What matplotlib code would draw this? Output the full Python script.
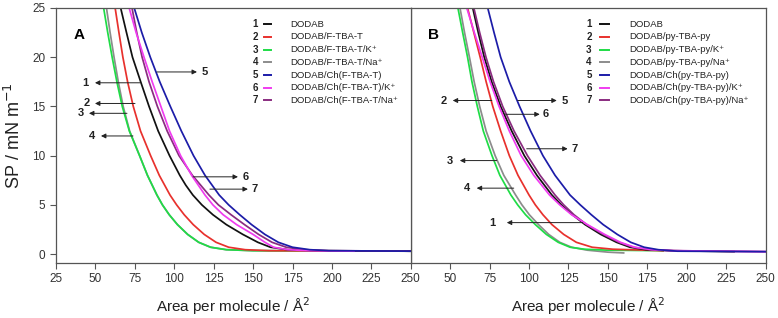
import matplotlib
matplotlib.use("Agg")
import matplotlib.pyplot as plt

plt.rcParams['font.family'] = ['Liberation Sans', 'DejaVu Sans']

# ---- panel A curves (area / A^2 vs SP / mN m-1) ----
a1_x = [66, 69.7, 73.5, 78.7, 84, 89.8, 97, 103.5, 107.3, 111.8, 117.5, 124.5, 133, 143.5, 153, 161, 172, 190, 250]
a1_y = [25, 22.5, 20, 17.5, 15, 12.5, 10, 8, 7, 6, 5, 4, 3, 2, 1.2, 0.7, 0.45, 0.35, 0.3]
a2_x = [62.5, 64.9, 67.4, 70.4, 74, 78.6, 85, 90.5, 97.3, 101.5, 106.3, 112, 119, 126.5, 134.5, 145, 160, 250]
a2_y = [25, 22.5, 20, 17.5, 15, 12.5, 10, 8, 6, 5, 4, 3, 2, 1.2, 0.7, 0.45, 0.35, 0.3]
a3_x = [55.2, 57.8, 60.6, 63.6, 67.0, 71.5, 78, 83, 89, 92.5, 96.8, 102, 108.5, 115.5, 123, 133, 150, 250]
a3_y = [25, 22.5, 20, 17.5, 15, 12.5, 10, 8, 6, 5, 4, 3, 2, 1.2, 0.7, 0.45, 0.35, 0.3]
a4_x = [57, 59.3, 61.8, 64.5, 67.6, 71.7, 78, 83, 89, 92.5, 96.8, 102, 108.5, 115.5, 123, 133, 150, 250]
a4_y = [25, 22.5, 20, 17.5, 15, 12.5, 10, 8, 6, 5, 4, 3, 2, 1.2, 0.7, 0.45, 0.35, 0.3]
a5_x = [74.6, 79.4, 84.8, 90.8, 97.5, 104.5, 112.2, 119.5, 128.5, 134.5, 141.5, 149, 157.5, 166, 175, 186, 198, 250]
a5_y = [25, 22.5, 20, 17.5, 15, 12.5, 10, 8, 6, 5, 4, 3, 2, 1.2, 0.7, 0.45, 0.35, 0.3]
a6_x = [71.4, 75.8, 80.8, 86, 91.5, 97, 104, 111, 119.5, 124.5, 131, 139.5, 150, 157.5, 163, 172, 185, 214]
a6_y = [25, 22.5, 20, 17.5, 15, 12.5, 10, 8, 6, 5, 4, 3, 2, 1.2, 0.7, 0.45, 0.35, 0.3]
a7_x = [73.2, 76.2, 79.6, 84, 89.3, 95.5, 103, 111.5, 122, 128, 136, 144.5, 153.5, 162, 171, 182, 198, 250]
a7_y = [25, 22.5, 20, 17.5, 15, 12.5, 10, 8, 6, 5, 4, 3, 2, 1.2, 0.7, 0.45, 0.35, 0.3]

# ---- panel B curves ----
b1_x = [64.3, 67.8, 71.6, 76.3, 82, 89, 97, 105, 114.5, 120.5, 127.5, 135.5, 145.5, 155.5, 164, 174, 190, 230]
b1_y = [25, 22.5, 20, 17.5, 15, 12.5, 10, 8, 6, 5, 4, 3, 2, 1.2, 0.7, 0.45, 0.35, 0.25]
b2_x = [61, 65, 69, 72.8, 77, 82, 87.5, 93, 100, 104, 108.8, 114.5, 122, 130, 140, 153, 170, 185]
b2_y = [25, 22.5, 20, 17.5, 15, 12.5, 10, 8, 6, 5, 4, 3, 2, 1.2, 0.7, 0.5, 0.42, 0.35]
b3_x = [54.9, 57.9, 61, 63.8, 67.2, 71, 76.5, 81.5, 88.5, 92.8, 97.8, 104, 111, 118.5, 126, 135, 150, 185]
b3_y = [25, 22.5, 20, 17.5, 15, 12.5, 10, 8, 6, 5, 4, 3, 2, 1.2, 0.7, 0.5, 0.4, 0.35]
b4_x = [56.2, 59.1, 62.2, 65.2, 68.7, 72.8, 78.5, 84, 91.5, 95.5, 100.2, 106, 112.5, 119.5, 127, 137, 150, 160]
b4_y = [25, 22.5, 20, 17.5, 15, 12.5, 10, 8, 6, 5, 4, 3, 2, 1.2, 0.7, 0.4, 0.2, 0.12]
b5_x = [73.8, 77.8, 82, 87.5, 94, 101, 108.8, 116.5, 126, 132.5, 139.5, 147, 156, 164.5, 173, 182, 194, 250]
b5_y = [25, 22.5, 20, 17.5, 15, 12.5, 10, 8, 6, 5, 4, 3, 2, 1.2, 0.7, 0.45, 0.3, 0.25]
b6_x = [60.5, 65.3, 70.3, 75.3, 81, 87.5, 95, 103, 113, 119.5, 127, 137, 148, 158, 167, 178, 192, 250]
b6_y = [25, 22.5, 20, 17.5, 15, 12.5, 10, 8, 6, 5, 4, 3, 2, 1.2, 0.7, 0.45, 0.35, 0.25]
b7_x = [65, 68.7, 72.7, 77.5, 83.3, 90.5, 99, 107, 116.5, 122, 128.5, 136.5, 147, 157, 166, 177, 192, 250]
b7_y = [25, 22.5, 20, 17.5, 15, 12.5, 10, 8, 6, 5, 4, 3, 2, 1.2, 0.7, 0.45, 0.35, 0.25]

colors = ['#111111', '#e8312d', '#1fdc46', '#8c8c8c', '#1c1ca8', '#f03cf0', '#8a2c80']
labels_a = ['DODAB', 'DODAB/F-TBA-T', 'DODAB/F-TBA-T/K\u207a', 'DODAB/F-TBA-T/Na\u207a',
            'DODAB/Ch(F-TBA-T)', 'DODAB/Ch(F-TBA-T)/K\u207a', 'DODAB/Ch(F-TBA-T/Na\u207a']
labels_b = ['DODAB', 'DODAB/py-TBA-py', 'DODAB/py-TBA-py/K\u207a', 'DODAB/py-TBA-py/Na\u207a',
            'DODAB/Ch(py-TBA-py)', 'DODAB/Ch(py-TBA-py)/K\u207a', 'DODAB/Ch(py-TBA-py)/Na\u207a']

# arrow annotations: number, tail x, head x, y, label x
arrows_a = [('5', 89, 114.4, 18.5, 119.5), ('1', 78.3, 49.7, 17.4, 43.4),
            ('2', 75.1, 49.7, 15.3, 44.7), ('3', 70, 45.9, 14.3, 40.8),
            ('4', 73.8, 53.5, 12.0, 47.8), ('6', 111.9, 140.4, 7.85, 145.5),
            ('7', 122.6, 146.7, 6.6, 151.2)]
arrows_b = [('2', 76.4, 51.6, 15.6, 45.9), ('5', 92.8, 117.6, 15.6, 122.6),
            ('6', 85.2, 106.8, 14.2, 110.6), ('7', 98.5, 124.5, 10.7, 129),
            ('3', 79.5, 56.1, 9.5, 49.7), ('4', 90.3, 66.8, 6.7, 60.5),
            ('1', 134, 85.9, 3.2, 77)]

xticks = [25, 50, 75, 100, 125, 150, 175, 200, 225, 250]
yticks = [0, 5, 10, 15, 20, 25]

fig = plt.figure(figsize=(7.78, 3.18), dpi=100)
axA = fig.add_axes([0.072, 0.173, 0.456, 0.802])
axB = fig.add_axes([0.528, 0.173, 0.456, 0.802])

curves_a = [(a1_x, a1_y), (a2_x, a2_y), (a3_x, a3_y), (a4_x, a4_y),
            (a5_x, a5_y), (a6_x, a6_y), (a7_x, a7_y)]
curves_b = [(b1_x, b1_y), (b2_x, b2_y), (b3_x, b3_y), (b4_x, b4_y),
            (b5_x, b5_y), (b6_x, b6_y), (b7_x, b7_y)]


def draw_panel(ax, curves, labels, arrows, letter, leg_num_x, leg_line_x, leg_text_x):
    # green/gray go under, the rest on top like in the original
    order = [3, 2, 1, 0, 6, 5, 4]
    for i in order:
        x, y = curves[i]
        ax.plot(x, y, color=colors[i], lw=1.25, solid_joinstyle='round')
    ax.set_xlim(25, 250)
    ax.set_ylim(-0.9, 25)
    ax.set_xticks(xticks)
    for s in ax.spines.values():
        s.set_color('#555555')
        s.set_linewidth(0.9)
    ax.tick_params(direction='out', length=4, width=0.8, color='#555555',
                   labelsize=8.5, labelcolor='#333333')
    ax.set_xlabel('Area per molecule / Å$^{2}$', fontsize=11, color='#222222', labelpad=7)
    ax.text(0.065, 0.895, letter, transform=ax.transAxes, fontsize=11,
            fontweight='bold', ha='center', va='center')

    # hand-made legend: number, short line, label
    for i, lab in enumerate(labels):
        yy = 0.936 - i * 0.0498
        ax.text(leg_num_x, yy, str(i + 1), transform=ax.transAxes, fontsize=7,
                fontweight='bold', ha='right', va='center', color='#222222')
        ax.plot(leg_line_x, [yy, yy], transform=ax.transAxes, color=colors[i],
                lw=1.4, clip_on=False)
        ax.text(leg_text_x, yy, lab, transform=ax.transAxes, fontsize=6.8,
                ha='left', va='center', color='#222222', clip_on=False)

    for num, x0, x1, yy, xl in arrows:
        ax.annotate('', xy=(x1, yy), xytext=(x0, yy),
                    arrowprops=dict(arrowstyle='-|>', color='#222222', lw=0.7,
                                    mutation_scale=7, shrinkA=0, shrinkB=0))
        ax.text(xl, yy, num, fontsize=8, fontweight='bold', ha='center',
                va='center', color='#222222')


draw_panel(axA, curves_a, labels_a, arrows_a, 'A', 0.569, [0.586, 0.606], 0.659)
draw_panel(axB, curves_b, labels_b, arrows_b, 'B', 0.51, [0.533, 0.56], 0.617)

axA.set_yticks(yticks)
axA.set_ylabel('SP / mN m$^{-1}$', fontsize=13, color='#222222', labelpad=6)
axB.set_yticks([])
axB.set_xticks(xticks[1:])
axB.set_zorder(-1)

fig.savefig('out.png', dpi=100)
